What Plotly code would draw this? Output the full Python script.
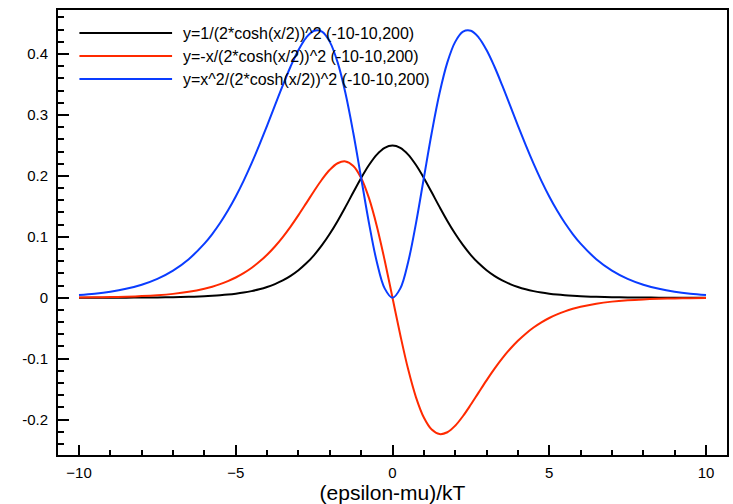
import plotly.graph_objects as go

# Sample positions in (epsilon-mu)/kT (finer spacing where the curves bend most)
x = [-10, -9.5, -9, -8.5, -8, -7.5, -7, -6.5,
     -6, -5.75, -5.5, -5.25, -5, -4.75, -4.5, -4.25, -4, -3.75, -3.5, -3.25,
     -3, -2.75, -2.5, -2.25, -2, -1.75, -1.5, -1.25, -1, -0.75, -0.5, -0.25,
     0,
     0.25, 0.5, 0.75, 1, 1.25, 1.5, 1.75, 2, 2.25, 2.5, 2.75, 3,
     3.25, 3.5, 3.75, 4, 4.25, 4.5, 4.75, 5, 5.25, 5.5, 5.75, 6,
     6.5, 7, 7.5, 8, 8.5, 9, 9.5, 10]

# y = 1/(2*cosh(x/2))^2
y_black = [0.0000454, 0.0000748, 0.000123, 0.000203, 0.000335, 0.000552, 0.000910, 0.001499,
           0.002467, 0.003163, 0.004054, 0.005193, 0.006648, 0.008504, 0.010866, 0.013866, 0.017663, 0.022449,
           0.028453, 0.035934, 0.045177, 0.056477, 0.070104, 0.086258, 0.104994, 0.126129, 0.149146, 0.173105,
           0.196612, 0.217895, 0.235004, 0.246134,
           0.25,
           0.246134, 0.235004, 0.217895, 0.196612, 0.173105, 0.149146, 0.126129, 0.104994, 0.086258, 0.070104,
           0.056477, 0.045177, 0.035934, 0.028453, 0.022449, 0.017663, 0.013866, 0.010866, 0.008504, 0.006648,
           0.005193, 0.004054, 0.003163, 0.002467,
           0.001499, 0.000910, 0.000552, 0.000335, 0.000203, 0.000123, 0.0000748, 0.0000454]

# y = -x/(2*cosh(x/2))^2
y_red = [0.000454, 0.000711, 0.001107, 0.001726, 0.00268, 0.00414, 0.00637, 0.009744,
         0.014802, 0.018187, 0.022297, 0.027263, 0.03324, 0.040394, 0.048897, 0.058931, 0.070652, 0.084184,
         0.099586, 0.116786, 0.135531, 0.155312, 0.17526, 0.194081, 0.209988, 0.220726, 0.223719, 0.216381,
         0.196612, 0.163421, 0.117502, 0.061534,
         0.0,
         -0.061534, -0.117502, -0.163421, -0.196612, -0.216381, -0.223719, -0.220726, -0.209988, -0.194081, -0.17526,
         -0.155312, -0.135531, -0.116786, -0.099586, -0.084184, -0.070652, -0.058931, -0.048897, -0.040394, -0.03324,
         -0.027263, -0.022297, -0.018187, -0.014802,
         -0.009744, -0.00637, -0.00414, -0.00268, -0.001726, -0.001107, -0.000711, -0.000454]

# y = x^2/(2*cosh(x/2))^2
y_blue = [0.00454, 0.00675, 0.009963, 0.014667, 0.02144, 0.03105, 0.04459, 0.063333,
          0.088812, 0.104577, 0.122634, 0.143132, 0.1662, 0.191872, 0.220037, 0.250455, 0.282608, 0.315689,
          0.348549, 0.379553, 0.406593, 0.427107, 0.43815, 0.436681, 0.419976, 0.38627, 0.335579, 0.270477,
          0.196612, 0.122566, 0.058751, 0.015383,
          0.0,
          0.015383, 0.058751, 0.122566, 0.196612, 0.270477, 0.335579, 0.38627, 0.419976, 0.436681, 0.43815,
          0.427107, 0.406593, 0.379553, 0.348549, 0.315689, 0.282608, 0.250455, 0.220037, 0.191872, 0.1662,
          0.143132, 0.122634, 0.104577, 0.088812,
          0.063333, 0.04459, 0.03105, 0.02144, 0.014667, 0.009963, 0.00675, 0.00454]

series_names = ["y=1/(2*cosh(x/2))^2 (-10-10,200)",
                "y=-x/(2*cosh(x/2))^2 (-10-10,200)",
                "y=x^2/(2*cosh(x/2))^2 (-10-10,200)"]
series_colors = ["#000000", "#ff2a00", "#0a3cff"]
series_values = [y_black, y_red, y_blue]

x_ticks = [-10, -5, 0, 5, 10]
y_ticks = [-0.2, -0.1, 0, 0.1, 0.2, 0.3, 0.4]
y_tick_text = ["-0.2", "-0.1", "0", "0.1", "0.2", "0.3", "0.4"]

FONT = "Liberation Sans, Arial, Helvetica, sans-serif"

fig = go.Figure()
for name, color, ys in zip(series_names, series_colors, series_values):
    fig.add_trace(go.Scatter(x=x, y=ys, mode="lines", name=name,
                             line=dict(color=color, width=2, shape="spline", smoothing=1),
                             showlegend=False))

# Legend drawn in paper coordinates: a long line sample followed by its label
ML, MR, MT, MB = 57.5, 4, 10, 49.3
plot_w = 733 - ML - MR
plot_h = 504 - MT - MB
for i, (name, color) in enumerate(zip(series_names, series_colors)):
    ypix = 33 + 23 * i
    yp = 1 - (ypix - MT) / plot_h
    fig.add_shape(type="line", xref="paper", yref="paper",
                  x0=(79 - ML) / plot_w, x1=(172 - ML) / plot_w, y0=yp, y1=yp,
                  line=dict(color=color, width=2))
    fig.add_annotation(xref="paper", yref="paper", x=(181 - ML) / plot_w, y=yp,
                       xanchor="left", yanchor="middle", text=name, showarrow=False,
                       font=dict(family=FONT, size=16, color="#000000"))

axis_common = dict(showline=True, linecolor="#000000", linewidth=2, mirror=True,
                   ticks="inside", tickcolor="#000000", tickwidth=2,
                   showgrid=False, zeroline=False,
                   tickfont=dict(family=FONT, size=15, color="#000000"))

fig.update_xaxes(range=[-10.67, 10.67], tickvals=x_ticks, ticklen=10, ticklabelstandoff=3,
                 minor=dict(dtick=1, ticks="inside", ticklen=5, tickcolor="#000000", tickwidth=1.5),
                 title=dict(text="(epsilon-mu)/kT", font=dict(family=FONT, size=21, color="#000000"), standoff=2),
                 **axis_common)
fig.update_yaxes(range=[-0.2581, 0.4723], tickvals=y_ticks, ticktext=y_tick_text,
                 ticklen=11, ticklabelstandoff=5,
                 minor=dict(dtick=0.02, tick0=0, ticks="inside", ticklen=6, tickcolor="#000000", tickwidth=1.5),
                 **axis_common)

fig.update_layout(width=733, height=504, margin=dict(l=ML, r=MR, t=MT, b=MB),
                  paper_bgcolor="#ffffff", plot_bgcolor="#ffffff",
                  font=dict(family=FONT, color="#000000"))

fig.write_html("out.html")
